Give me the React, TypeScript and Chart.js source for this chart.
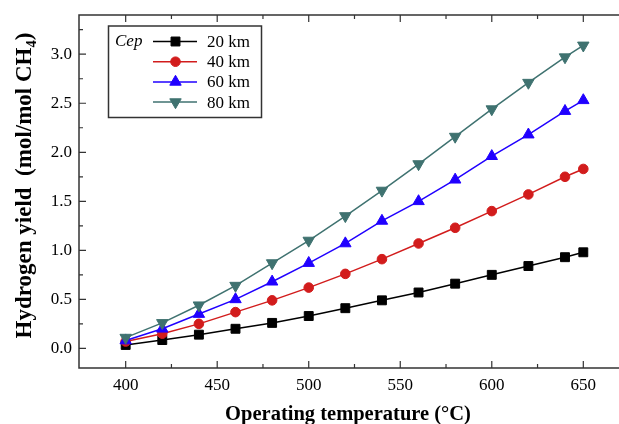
import React, { useEffect, useRef } from 'react';
import { Chart, registerables } from 'chart.js';
import { drawPoint } from 'chart.js/helpers';

Chart.register(...registerables);

// ---- data ----
const TEMPS = [400, 420, 440, 460, 480, 500, 520, 540, 560, 580, 600, 620, 640, 650];
const Y_20KM = [0.035, 0.085, 0.14, 0.2, 0.26, 0.33, 0.41, 0.49, 0.57, 0.66, 0.75, 0.84, 0.93, 0.98];
const Y_40KM = [0.07, 0.15, 0.25, 0.37, 0.49, 0.62, 0.76, 0.91, 1.07, 1.23, 1.4, 1.57, 1.75, 1.83];
const Y_60KM = [0.08, 0.2, 0.35, 0.5, 0.68, 0.87, 1.07, 1.3, 1.5, 1.72, 1.96, 2.18, 2.42, 2.53];
const Y_80KM = [0.11, 0.26, 0.44, 0.64, 0.87, 1.1, 1.35, 1.61, 1.88, 2.16, 2.44, 2.71, 2.97, 3.09];
const SERIES_LABELS = ['20 km', '40 km', '60 km', '80 km'];
const LEGEND_TITLE = 'Cep';
const X_TICKS = [400, 450, 500, 550, 600, 650];
const Y_TICKS = [0, 0.5, 1, 1.5, 2, 2.5, 3];
const X_TITLE = 'Operating temperature (\u00B0C)';
const Y_TITLE_MAIN = 'Hydrogen yield  (mol/mol CH';
const Y_TITLE_SUB = '4';
const Y_TITLE_END = ')';

// ---- styles ----
const FONT = '"Liberation Serif", "Times New Roman", serif';
const COLORS = ['#000000', '#d21c1c', '#2000ff', '#3f7270'];
const POINT_STYLES = ['rect', 'circle', 'triangle', 'triangle'];
const POINT_ROT = [0, 0, 0, 180];
const POINT_RADIUS = [6.3, 4.8, 6.6, 6.6];
const AXIS_COLOR = '#333333';

const SERIES = [Y_20KM, Y_40KM, Y_60KM, Y_80KM];

const framePlugin = {
  id: 'frame',
  afterDraw(chart: any) {
    const { ctx, chartArea: a, scales } = chart;
    const xs = scales.x;
    const ys = scales.y;
    ctx.save();
    // frame (right edge lies outside the picture)
    ctx.strokeStyle = AXIS_COLOR;
    ctx.lineWidth = 1.5;
    ctx.beginPath();
    ctx.moveTo(a.right + 2, a.top);
    ctx.lineTo(a.left, a.top);
    ctx.lineTo(a.left, a.bottom);
    ctx.lineTo(a.right + 2, a.bottom);
    ctx.stroke();

    // ticks (inward)
    ctx.lineWidth = 1.2;
    ctx.beginPath();
    const xMinor: number[] = X_TICKS.map((v) => v - 25).concat([X_TICKS[X_TICKS.length - 1] + 25]);
    const drawX = (v: number, len: number) => {
      if (v <= xs.min + 0.5 || v >= xs.max - 0.5) return;
      const px = xs.getPixelForValue(v);
      ctx.moveTo(px, a.bottom);
      ctx.lineTo(px, a.bottom - len);
      ctx.moveTo(px, a.top);
      ctx.lineTo(px, a.top + len);
    };
    X_TICKS.forEach((v) => drawX(v, 7));
    xMinor.forEach((v) => drawX(v, 4));
    const yMinor: number[] = Y_TICKS.map((v) => v - 0.25).concat([Y_TICKS[Y_TICKS.length - 1] + 0.25]);
    const drawY = (v: number, len: number) => {
      if (v <= ys.min + 0.01 || v >= ys.max - 0.01) return;
      const py = ys.getPixelForValue(v);
      ctx.moveTo(a.left, py);
      ctx.lineTo(a.left + len, py);
    };
    Y_TICKS.forEach((v) => drawY(v, 7));
    yMinor.forEach((v) => drawY(v, 4));
    ctx.stroke();

    // x title
    ctx.fillStyle = '#000';
    ctx.font = 'bold 20.5px ' + FONT;
    ctx.textAlign = 'center';
    ctx.textBaseline = 'alphabetic';
    ctx.fillText(X_TITLE, (a.left + a.right) / 2 - 1, 420);

    // y title with subscript
    const mainFont = 'bold 23px ' + FONT;
    const subFont = 'bold 14.5px ' + FONT;
    ctx.font = mainFont;
    const w1 = ctx.measureText(Y_TITLE_MAIN).width;
    const w3 = ctx.measureText(Y_TITLE_END).width;
    ctx.font = subFont;
    const w2 = ctx.measureText(Y_TITLE_SUB).width;
    const total = w1 + w2 + w3;
    ctx.save();
    ctx.translate(31, (a.top + a.bottom) / 2 - 6);
    ctx.rotate(-Math.PI / 2);
    ctx.textAlign = 'left';
    const x0 = -total / 2;
    ctx.font = mainFont;
    ctx.fillText(Y_TITLE_MAIN, x0, 0);
    ctx.font = subFont;
    ctx.fillText(Y_TITLE_SUB, x0 + w1, 5);
    ctx.font = mainFont;
    ctx.fillText(Y_TITLE_END, x0 + w1 + w2, 0);
    ctx.restore();

    // legend
    const lx = 108.5, ly = 26, lw = 153, lh = 91.5;
    ctx.strokeStyle = AXIS_COLOR;
    ctx.lineWidth = 1.5;
    ctx.strokeRect(lx, ly, lw, lh);
    ctx.textAlign = 'left';
    ctx.textBaseline = 'middle';
    ctx.fillStyle = '#000';
    ctx.font = 'italic 17px ' + FONT;
    const rowY = (i: number) => 41.5 + i * 20.2;
    ctx.fillText(LEGEND_TITLE, 115, rowY(0));
    chart.data.datasets.forEach((ds: any, i: number) => {
      const y = rowY(i);
      ctx.strokeStyle = ds.borderColor;
      ctx.lineWidth = 1.5;
      ctx.beginPath();
      ctx.moveTo(153, y);
      ctx.lineTo(197, y);
      ctx.stroke();
      ctx.fillStyle = ds.pointBackgroundColor;
      ctx.strokeStyle = ds.pointBorderColor;
      ctx.lineWidth = 1;
      drawPoint(ctx, { pointStyle: ds.pointStyle, rotation: ds.pointRotation, radius: ds.pointRadius, borderWidth: 1 }, 175.5, y);
      ctx.fillStyle = '#000';
      ctx.font = '17px ' + FONT;
      ctx.fillText(ds.label, 207, y + 1);
    });
    ctx.restore();
  },
};

export default function App() {
  const ref = useRef<HTMLCanvasElement | null>(null);
  useEffect(() => {
    if (!ref.current) return;
    const datasets = SERIES.map((vals, i) => ({
      label: SERIES_LABELS[i],
      data: TEMPS.map((t, j) => ({ x: t, y: vals[j] })),
      borderColor: COLORS[i],
      backgroundColor: COLORS[i],
      pointBackgroundColor: COLORS[i],
      pointBorderColor: COLORS[i],
      pointStyle: POINT_STYLES[i],
      pointRotation: POINT_ROT[i],
      pointRadius: POINT_RADIUS[i],
      pointBorderWidth: 1,
      borderWidth: 1.5,
      tension: 0,
      order: 3 - i,
    }));
    const chart = new Chart(ref.current, {
      type: 'line',
      data: { datasets },
      options: {
        animation: false,
        responsive: false,
        layout: { autoPadding: false, padding: { left: 0, right: 0, top: 15, bottom: 0 } },
        plugins: { legend: { display: false }, tooltip: { enabled: false } },
        scales: {
          x: {
            type: 'linear',
            min: 374.5,
            max: 669.5,
            grid: { display: false, drawTicks: false },
            border: { display: false },
            afterBuildTicks: (s: any) => {
              s.ticks = X_TICKS.map((v) => ({ value: v }));
            },
            afterFit: (s: any) => {
              s.height = 56;
              s.paddingLeft = 0;
              s.paddingRight = 0;
            },
            ticks: {
              color: '#000',
              font: { family: FONT, size: 17 },
              padding: 7,
              maxRotation: 0,
              callback: (v: any) => String(v),
            },
          },
          y: {
            type: 'linear',
            min: -0.2,
            max: 3.4,
            grid: { display: false, drawTicks: false },
            border: { display: false },
            afterBuildTicks: (s: any) => {
              s.ticks = Y_TICKS.map((v) => ({ value: v }));
            },
            afterFit: (s: any) => {
              s.width = 79;
              s.paddingTop = 0;
              s.paddingBottom = 0;
            },
            ticks: {
              color: '#000',
              font: { family: FONT, size: 17 },
              padding: 7,
              callback: (v: any) => Number(v).toFixed(1),
            },
          },
        },
      },
      plugins: [framePlugin],
    } as any);
    return () => chart.destroy();
  }, []);
  return (
    <div style={{ position: 'fixed', left: 0, top: 0, width: 619, height: 424, background: '#fff' }}>
      <canvas ref={ref} width={619} height={424} style={{ width: 619, height: 424, display: 'block' }} />
    </div>
  );
}
